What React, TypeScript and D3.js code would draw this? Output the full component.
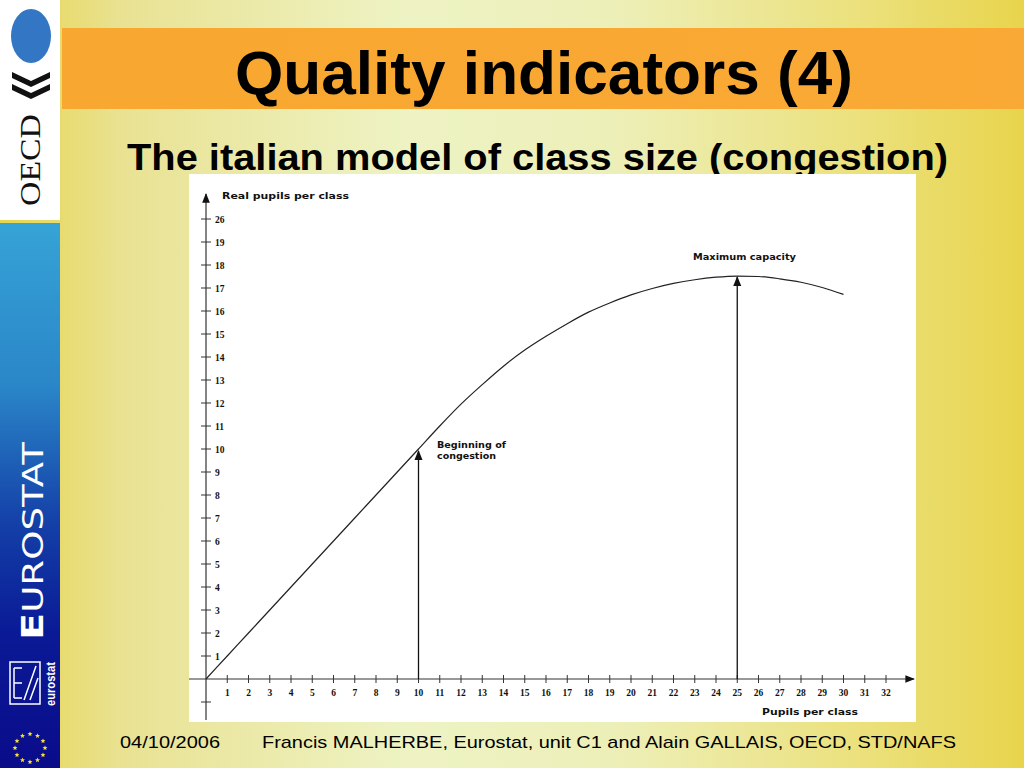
import React from "react";
import * as d3 from "d3";

// ---- data ----
const curveX = [0, 1, 2, 3, 4, 5, 6, 7, 8, 9, 10, 11, 12, 13, 14, 15, 16, 17, 18, 19, 20, 21, 22, 23, 24, 25, 26, 27, 28, 29, 30];
const curveY = [0, 1, 2, 3, 4, 5, 6, 7, 8, 9, 10, 11.0, 11.95, 12.8, 13.6, 14.3, 14.9, 15.45, 15.95, 16.35, 16.7, 16.98, 17.2, 17.36, 17.47, 17.52, 17.5, 17.4, 17.25, 17.02, 16.72];
const xTicks = d3.range(1, 33);
const yTickPos = d3.range(1, 21);
const yTickLabels = ["1", "2", "3", "4", "5", "6", "7", "8", "9", "10", "11", "12", "13", "14", "15", "16", "17", "18", "19", "26"];
const congestionX = 10;
const congestionY = 10;
const maxCapX = 25;
const maxCapY = 17.52;

const W = 1024;
const H = 768;

export default function App() {
  const x = d3.scaleLinear().domain([0, 32]).range([206, 886]);
  const y = d3.scaleLinear().domain([0, 20]).range([679, 219]);
  const pts: [number, number][] = curveX.map((v, i) => [v, curveY[i]]);
  const line = d3
    .line<[number, number]>()
    .x((d) => x(d[0]))
    .y((d) => y(d[1]))
    .curve(d3.curveMonotoneX);

  const stars = d3.range(12).map((i) => {
    const a = (i / 12) * Math.PI * 2;
    return [30 + 15 * Math.cos(a), 748 + 14 * Math.sin(a)];
  });
  const starPath = (cx: number, cy: number, r: number) => {
    let p = "";
    for (let k = 0; k < 10; k++) {
      const rr = k % 2 === 0 ? r : r * 0.45;
      const a = -Math.PI / 2 + (k * Math.PI) / 5;
      p += (k === 0 ? "M" : "L") + (cx + rr * Math.cos(a)).toFixed(2) + "," + (cy + rr * Math.sin(a)).toFixed(2);
    }
    return p + "Z";
  };

  const serif = "'Liberation Serif', 'DejaVu Serif', serif";
  const verd = "'DejaVu Sans', Verdana, sans-serif";
  const arial = "'Liberation Sans', Arial, sans-serif";

  return (
    <svg width={W} height={H} style={{ position: "absolute", left: 0, top: 0 }}>
      <defs>
        <linearGradient id="bg" x1="0" y1="0" x2="1" y2="0">
          <stop offset="0" stopColor="#e6d54e" />
          <stop offset="0.12" stopColor="#e9e293" />
          <stop offset="0.4" stopColor="#eef3c4" />
          <stop offset="0.6" stopColor="#edefb8" />
          <stop offset="0.85" stopColor="#ebe07a" />
          <stop offset="1" stopColor="#e8d44c" />
        </linearGradient>
        <linearGradient id="orange" x1="0" y1="0" x2="1" y2="0">
          <stop offset="0" stopColor="#f8a830" />
          <stop offset="1" stopColor="#f9a935" />
        </linearGradient>
        <linearGradient id="blue" x1="0" y1="0" x2="0" y2="1">
          <stop offset="0" stopColor="#36a3d6" />
          <stop offset="0.3" stopColor="#2a86c8" />
          <stop offset="0.55" stopColor="#1440a8" />
          <stop offset="0.75" stopColor="#0a1a96" />
          <stop offset="1" stopColor="#0a0c8a" />
        </linearGradient>
        <marker id="arr" viewBox="0 0 10 10" refX="9" refY="5" markerWidth="8" markerHeight="8" orient="auto-start-reverse">
          <path d="M0,1 L10,5 L0,9 Z" fill="#111" />
        </marker>
      </defs>

      {/* background */}
      <rect x={0} y={0} width={W} height={H} fill="url(#bg)" />
      <rect x={62} y={28} width={W - 62} height={81} fill="url(#orange)" />

      {/* left OECD panel */}
      <rect x={0} y={0} width={60} height={220} fill="#ffffff" />
      <ellipse cx={31} cy={36} rx={20} ry={27} fill="#3377c4" />
      <path d="M12,72 L31,81 L50,72 L50,78 L31,87 L12,78 Z" fill="#111" />
      <path d="M12,84 L31,93 L50,84 L50,90 L31,99 L12,90 Z" fill="#111" />
      <text
        transform="translate(40,206) rotate(-90)"
        fontFamily={serif}
        fontSize={30}
        fill="#111"
        textLength={92}
        lengthAdjust="spacingAndGlyphs"
      >
        OECD
      </text>

      {/* left EUROSTAT panel */}
      <rect x={0} y={223} width={60} height={545} fill="url(#blue)" />
      <text
        transform="translate(43,640) rotate(-90)"
        fontFamily={verd}
        fontSize={28}
        fill="#ffffff"
        textLength={198}
        lengthAdjust="spacingAndGlyphs"
      >
        <tspan fontWeight="bold" fontSize={30}>E</tspan>UROSTAT
      </text>
      <rect x={10} y={662} width={30} height={42} fill="none" stroke="#ffffff" strokeWidth={1.5} />
      <path d="M14,668 L22,668 M14,683 L22,683 M14,698 L22,698 M14,668 L14,698 M24,700 L36,666 M30,700 L38,678" stroke="#ffffff" strokeWidth={1.5} fill="none" />
      <text
        transform="translate(55,706) rotate(-90)"
        fontFamily={arial}
        fontSize={12}
        fontWeight="bold"
        fill="#ffffff"
        textLength={44}
        lengthAdjust="spacingAndGlyphs"
      >
        eurostat
      </text>
      {stars.map((s, i) => (
        <path key={i} d={starPath(s[0], s[1], 2.6)} fill="#f4e03a" />
      ))}

      {/* titles */}
      <text x={235} y={94} fontFamily={arial} fontWeight="bold" fontSize={62} fill="#000" textLength={618} lengthAdjust="spacingAndGlyphs">
        Quality indicators (4)
      </text>
      <text x={127} y={170} fontFamily={arial} fontWeight="bold" fontSize={37} fill="#000" textLength={821} lengthAdjust="spacingAndGlyphs">
        The italian model of class size (congestion)
      </text>

      {/* chart area */}
      <rect x={189} y={174} width={727} height={548} fill="#ffffff" />

      {/* axes */}
      <line x1={189} y1={y(0)} x2={914} y2={y(0)} stroke="#333" strokeWidth={1.2} markerEnd="url(#arr)" />
      <line x1={x(0)} y1={720} x2={x(0)} y2={194} stroke="#333" strokeWidth={1.2} markerEnd="url(#arr)" />
      {xTicks.map((t) => (
        <g key={"xt" + t}>
          <line x1={x(t)} x2={x(t)} y1={y(0) - 4} y2={y(0) + 4} stroke="#333" strokeWidth={1} />
          <text x={x(t)} y={696} textAnchor="middle" fontFamily={serif} fontWeight="bold" fontSize={9.5} fill="#111">
            {t}
          </text>
        </g>
      ))}
      {[-1, ...yTickPos].map((t, i) => (
        <g key={"yt" + t}>
          <line x1={x(0) - 5} x2={x(0) + 5} y1={y(t)} y2={y(t)} stroke="#333" strokeWidth={1} />
          {t > 0 && (
            <text x={215} y={y(t) + 3.5} fontFamily={serif} fontWeight="bold" fontSize={9.5} fill="#111">
              {yTickLabels[i - 1]}
            </text>
          )}
        </g>
      ))}
      <text x={222} y={199} fontFamily={verd} fontWeight="bold" fontSize={9.5} fill="#111" textLength={127} lengthAdjust="spacingAndGlyphs">
        Real pupils per class
      </text>
      <text x={762} y={715} fontFamily={verd} fontWeight="bold" fontSize={9.5} fill="#111" textLength={96} lengthAdjust="spacingAndGlyphs">
        Pupils per class
      </text>

      {/* curve */}
      <path d={line(pts) || ""} fill="none" stroke="#222" strokeWidth={1.2} />

      {/* annotations */}
      <line x1={x(congestionX)} y1={y(0)} x2={x(congestionX)} y2={y(congestionY) + 2} stroke="#111" strokeWidth={1.3} markerEnd="url(#arr)" />
      <line x1={x(maxCapX)} y1={y(0)} x2={x(maxCapX)} y2={y(maxCapY) + 1} stroke="#111" strokeWidth={1.3} markerEnd="url(#arr)" />
      <text x={437} y={448} fontFamily={verd} fontWeight="bold" fontSize={8.5} fill="#111" textLength={69} lengthAdjust="spacingAndGlyphs">
        Beginning of
      </text>
      <text x={437} y={459} fontFamily={verd} fontWeight="bold" fontSize={8.5} fill="#111" textLength={59} lengthAdjust="spacingAndGlyphs">
        congestion
      </text>
      <text x={693} y={260} fontFamily={verd} fontWeight="bold" fontSize={8.5} fill="#111" textLength={103} lengthAdjust="spacingAndGlyphs">
        Maximum capacity
      </text>

      {/* footer */}
      <text x={120} y={748} fontFamily={arial} fontSize={17} fill="#000" textLength={100} lengthAdjust="spacingAndGlyphs">
        04/10/2006
      </text>
      <text x={262} y={748} fontFamily={arial} fontSize={17} fill="#000" textLength={694} lengthAdjust="spacingAndGlyphs">
        Francis MALHERBE, Eurostat, unit C1 and Alain GALLAIS, OECD, STD/NAFS
      </text>
    </svg>
  );
}
